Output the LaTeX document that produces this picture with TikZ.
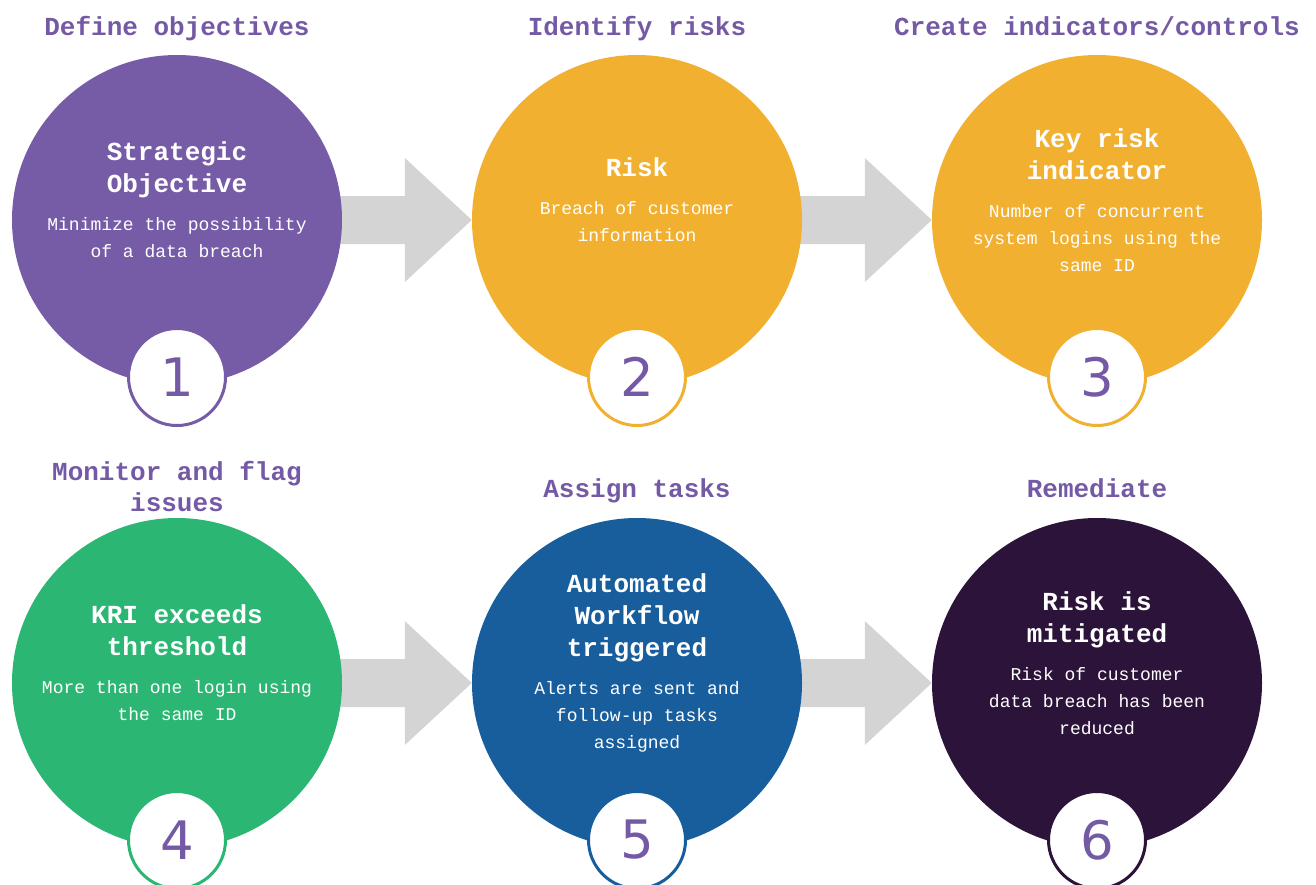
\documentclass[tikz,border=0pt]{standalone}
\usepackage{fontspec}
\setmainfont{Liberation Mono}
\newfontfamily\numfont{DejaVu Sans}
\usetikzlibrary{calc,backgrounds}

\definecolor{titlepurple}{HTML}{7459A5}
\definecolor{objpurple}{HTML}{765CA7}
\definecolor{riskorange}{HTML}{F1B030}
\definecolor{flaggreen}{HTML}{2BB673}
\definecolor{taskblue}{HTML}{185E9D}
\definecolor{donedark}{HTML}{2C1339}
\definecolor{arrowgray}{HTML}{D3D4D3}

\newcommand{\stephead}[1]{{\fontsize{26}{32}\selectfont\bfseries #1\par}\vspace{11pt}}
\newcommand{\stepnote}[1]{{\fontsize{18}{27}\selectfont #1\par}}

\begin{document}
\begin{tikzpicture}[x=1pt,y=-1pt,
	bigdisc/.style={circle, minimum size=330, inner sep=0},
	numdisc/.style={circle, fill=white, line width=3, minimum size=97, inner sep=0,
		text=titlepurple, font=\numfont\fontsize{53}{53}\selectfont},
	stepinfo/.style={text=white, text width=320, align=flush center, inner sep=0},
	steptitle/.style={text=titlepurple, align=center, anchor=base,
		font=\fontsize{26}{31}\selectfont\bfseries}]
	\useasboundingbox (0,0) rectangle (1316,884);

	%circles
	\node[bigdisc, fill=objpurple] (c1) at (177,220) {};
	\node[bigdisc, fill=riskorange] (c2) at (637,220) {};
	\node[bigdisc, fill=riskorange] (c3) at (1097,220) {};
	\node[bigdisc, fill=flaggreen] (c4) at (177,683) {};
	\node[bigdisc, fill=taskblue] (c5) at (637,683) {};
	\node[bigdisc, fill=donedark] (c6) at (1097,683) {};

	%arrows
	\begin{pgfonlayer}{background}
	\fill[arrowgray] ($(c1.center)+(0,-24)$) -- ($(c2.west)+(-67,-24)$) -- ($(c2.west)+(-67,-62)$) -- (c2.west) -- ($(c2.west)+(-67,62)$) -- ($(c2.west)+(-67,24)$) -- ($(c1.center)+(0,24)$) -- cycle;
	\fill[arrowgray] ($(c2.center)+(0,-24)$) -- ($(c3.west)+(-67,-24)$) -- ($(c3.west)+(-67,-62)$) -- (c3.west) -- ($(c3.west)+(-67,62)$) -- ($(c3.west)+(-67,24)$) -- ($(c2.center)+(0,24)$) -- cycle;
	\fill[arrowgray] ($(c4.center)+(0,-24)$) -- ($(c5.west)+(-67,-24)$) -- ($(c5.west)+(-67,-62)$) -- (c5.west) -- ($(c5.west)+(-67,62)$) -- ($(c5.west)+(-67,24)$) -- ($(c4.center)+(0,24)$) -- cycle;
	\fill[arrowgray] ($(c5.center)+(0,-24)$) -- ($(c6.west)+(-67,-24)$) -- ($(c6.west)+(-67,-62)$) -- (c6.west) -- ($(c6.west)+(-67,62)$) -- ($(c6.west)+(-67,24)$) -- ($(c5.center)+(0,24)$) -- cycle;
	\end{pgfonlayer}

	%texts in circles
	\node[stepinfo] (i1) at (177,200) {\stephead{Strategic\\Objective}\stepnote{Minimize the possibility\\of a data breach}};
	\node[stepinfo] (i2) at (637,200) {\stephead{Risk}\stepnote{Breach of customer\\information}};
	\node[stepinfo] (i3) at (1097,200) {\stephead{Key risk\\indicator}\stepnote{Number of concurrent\\system logins using the\\same ID}};
	\node[stepinfo] (i4) at (177,663) {\stephead{KRI exceeds\\threshold}\stepnote{More than one login using\\the same ID}};
	\node[stepinfo] (i5) at (637,663) {\stephead{Automated\\Workflow\\triggered}\stepnote{Alerts are sent and\\follow-up tasks\\assigned}};
	\node[stepinfo] (i6) at (1097,663) {\stephead{Risk is\\mitigated}\stepnote{Risk of customer\\data breach has been\\reduced}};

	%numbers
	\node[numdisc, draw=objpurple] (n1) at (177,377) {1};
	\node[numdisc, draw=riskorange] (n2) at (637,377) {2};
	\node[numdisc, draw=riskorange] (n3) at (1097,377) {3};
	\node[numdisc, draw=flaggreen] (n4) at (177,840) {4};
	\node[numdisc, draw=taskblue] (n5) at (637,840) {5};
	\node[numdisc, draw=donedark] (n6) at (1097,840) {6};

	%titles
	\node[steptitle] (h1) at (177,35) {Define objectives};
	\node[steptitle] (h2) at (637,35) {Identify risks};
	\node[steptitle] (h3) at (1097,35) {Create indicators/controls};
	\node[steptitle, anchor=center] (h4) at (177,487) {Monitor and flag\\issues};
	\node[steptitle] (h5) at (637,497) {Assign tasks};
	\node[steptitle] (h6) at (1097,497) {Remediate};
\end{tikzpicture}
\end{document}
